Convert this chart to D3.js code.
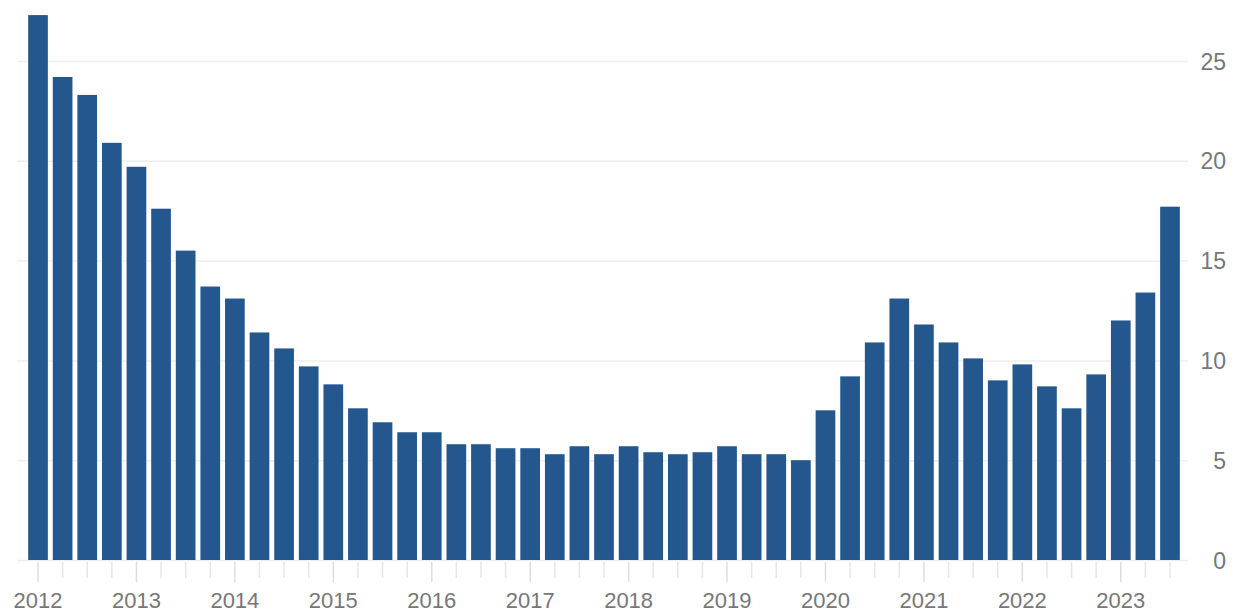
<!DOCTYPE html>
<html>
<head>
<meta charset="utf-8">
<script src="https://cdn.jsdelivr.net/npm/d3@7"></script>
<style>
  html, body { margin: 0; padding: 0; background: #fff; }
  svg { display: block; font-family: "Open Sans", sans-serif; }
</style>
</head>
<body>
<svg id="chart" width="1235" height="615"></svg>
<script>
// Quarterly values, 2012 Q1 to 2023 Q3
const quarters = [
  '2012 Q1', '2012 Q2', '2012 Q3', '2012 Q4',
  '2013 Q1', '2013 Q2', '2013 Q3', '2013 Q4',
  '2014 Q1', '2014 Q2', '2014 Q3', '2014 Q4',
  '2015 Q1', '2015 Q2', '2015 Q3', '2015 Q4',
  '2016 Q1', '2016 Q2', '2016 Q3', '2016 Q4',
  '2017 Q1', '2017 Q2', '2017 Q3', '2017 Q4',
  '2018 Q1', '2018 Q2', '2018 Q3', '2018 Q4',
  '2019 Q1', '2019 Q2', '2019 Q3', '2019 Q4',
  '2020 Q1', '2020 Q2', '2020 Q3', '2020 Q4',
  '2021 Q1', '2021 Q2', '2021 Q3', '2021 Q4',
  '2022 Q1', '2022 Q2', '2022 Q3', '2022 Q4',
  '2023 Q1', '2023 Q2', '2023 Q3'
];
const values = [
  27.3, 24.2, 23.3, 20.9,
  19.7, 17.6, 15.5, 13.7,
  13.1, 11.4, 10.6, 9.7,
  8.8, 7.6, 6.9, 6.4,
  6.4, 5.8, 5.8, 5.6,
  5.6, 5.3, 5.7, 5.3,
  5.7, 5.4, 5.3, 5.4,
  5.7, 5.3, 5.3, 5.0,
  7.5, 9.2, 10.9, 13.1,
  11.8, 10.9, 10.1, 9.0,
  9.8, 8.7, 7.6, 9.3,
  12.0, 13.4, 17.7
];
const yTicks = [0, 5, 10, 15, 20, 25];

const data = quarters.map((q, i) => ({ q: q, v: values[i] }));

const svg = d3.select('#chart');

const x = d3.scaleBand()
  .domain(quarters)
  .range([25.7, 1182.3])
  .paddingInner(0.2)
  .paddingOuter(0.1);

const y = d3.scaleLinear()
  .domain([0, 25])
  .range([560, 61]);

// gridlines + right labels
const yAxis = svg.append('g')
  .attr('transform', 'translate(17,0)')
  .call(d3.axisRight(y).tickValues(yTicks).tickSize(1171).tickFormat(d3.format('d')));
yAxis.select('.domain').remove();
yAxis.selectAll('.tick line')
  .attr('stroke', '#eeeeee')
  .attr('stroke-width', 1.5);
yAxis.selectAll('.tick text')
  .attr('x', 1209)
  .attr('dy', '0.35em')
  .attr('text-anchor', 'end')
  .attr('fill', '#777')
  .style('font-size', '23px');

// bars
svg.append('g')
  .selectAll('rect')
  .data(data)
  .enter()
  .append('rect')
  .attr('x', d => x(d.q))
  .attr('y', d => y(d.v))
  .attr('width', x.bandwidth())
  .attr('height', d => y(0) - y(d.v))
  .attr('fill', '#24578e');

// bottom axis: tick per quarter, year label on Q1
const xAxis = svg.append('g')
  .attr('transform', 'translate(0,562)')
  .call(d3.axisBottom(x).tickSize(20).tickFormat(d => d.endsWith('Q1') ? d.slice(0, 4) : ''));
xAxis.select('.domain').remove();
xAxis.selectAll('.tick line')
  .attr('stroke', d => d.endsWith('Q1') ? '#dddddd' : '#e6e6e6')
  .attr('y2', d => d.endsWith('Q1') ? 20 : 16)
  .attr('stroke-width', 1.5);
xAxis.selectAll('.tick text')
  .attr('y', 46)
  .attr('dy', '0')
  .attr('fill', '#777')
  .style('font-size', '22px');
</script>
</body>
</html>
